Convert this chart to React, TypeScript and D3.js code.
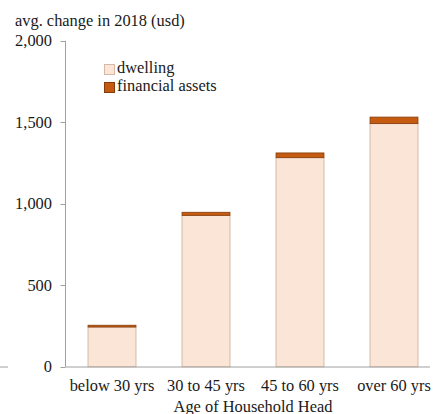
import React from "react";
import * as d3 from "d3";

const categories = ["below 30 yrs", "30 to 45 yrs", "45 to 60 yrs", "over 60 yrs"];
const dwelling = [244, 929, 1283, 1492];
const financial = [11, 19, 29, 40];
const yTicks = [0, 500, 1000, 1500, 2000];
const seriesNames = ["dwelling", "financial assets"];

const W = 445;
const H = 414;
const FONT = "'Liberation Serif', 'Times New Roman', serif";
const FS = 16.4;
const DW_FILL = "#FBE5D6";
const DW_STROKE = "#D8B9A6";
const FIN_FILL = "#C55A11";
const FIN_STROKE = "#843C0C";
const AXIS = "#A0A0A0";

export default function App() {
  const y = d3.scaleLinear().domain([0, 2000]).range([366.8, 40.8]);
  const x = d3
    .scaleBand<string>()
    .domain(categories)
    .range([65, 441])
    .paddingInner(0.49)
    .paddingOuter(0.245);
  const fmt = d3.format(",");
  const axisX = 65.5;

  return (
    <svg
      width={W}
      height={H}
      style={{ position: "absolute", left: 0, top: 0, background: "#fff" }}
      fontFamily={FONT}
    >
      <text x={15} y={26} fontSize={FS} fill="#1a1a1a">
        avg. change in 2018 (usd)
      </text>
      <line x1={axisX} x2={axisX} y1={y(2000)} y2={y(0)} stroke={AXIS} strokeWidth={1} />
      {yTicks.map((t) => (
        <g key={t}>
          <line x1={60.5} x2={axisX} y1={Math.round(y(t)) + 0.5} y2={Math.round(y(t)) + 0.5} stroke={AXIS} />
          <text x={52} y={y(t) + 5.5} fontSize={FS} textAnchor="end" fill="#1a1a1a">
            {fmt(t)}
          </text>
        </g>
      ))}
      {categories.map((c, i) => {
        const x0 = x(c)!;
        const bw = x.bandwidth();
        const d = dwelling[i];
        const f = financial[i];
        return (
          <g key={c}>
            <rect
              x={x0}
              y={y(d)}
              width={bw}
              height={y(0) - y(d)}
              fill={DW_FILL}
              stroke={DW_STROKE}
              strokeWidth={1}
            />
            <rect
              x={x0}
              y={y(d + f)}
              width={bw}
              height={y(d) - y(d + f)}
              fill={FIN_FILL}
              stroke={FIN_STROKE}
              strokeWidth={0.8}
            />
          </g>
        );
      })}
      <line x1={0} x2={8} y1={367} y2={367} stroke={AXIS} />
      <line x1={axisX} x2={430} y1={367} y2={367} stroke={AXIS} />
      {categories.map((c) => (
        <text
          key={c}
          x={x(c)! + x.bandwidth() / 2}
          y={391}
          fontSize={FS}
          textAnchor="middle"
          fill="#1a1a1a"
        >
          {c}
        </text>
      ))}
      <text x={(65 + 441) / 2} y={412} fontSize={FS} textAnchor="middle" fill="#1a1a1a">
        Age of Household Head
      </text>
      {seriesNames.map((s, i) => (
        <g key={s}>
          <rect
            x={104.5}
            y={64.5 + i * 18}
            width={10}
            height={10}
            fill={i === 0 ? DW_FILL : FIN_FILL}
            stroke={i === 0 ? DW_STROKE : FIN_STROKE}
          />
          <text x={117} y={73 + i * 18} fontSize={FS} fill="#1a1a1a">
            {s}
          </text>
        </g>
      ))}
    </svg>
  );
}
